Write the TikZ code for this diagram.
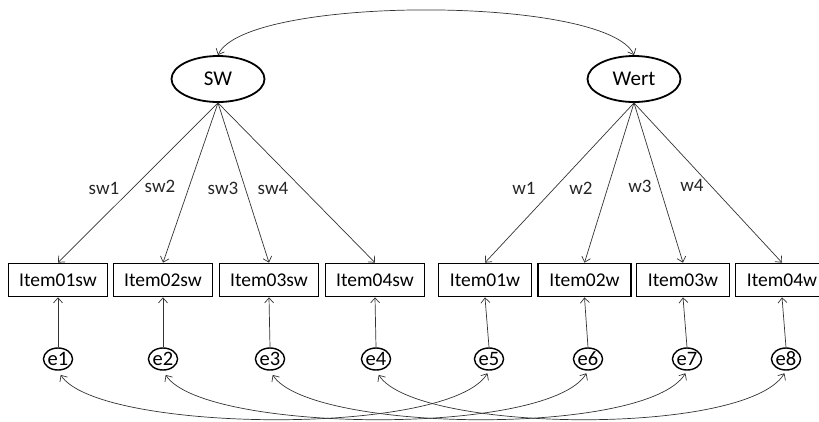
\documentclass[tikz,border=0pt]{standalone}
\usepackage{fontspec}
\setmainfont{Carlito}
\usetikzlibrary{arrows.meta,shapes.geometric}
\begin{document}
\begin{tikzpicture}[x=1pt,y=-1pt,
  latent/.style={ellipse,draw,line width=1.8pt,minimum width=93pt,minimum height=46pt,inner sep=0pt,font=\fontsize{21}{25}\selectfont},
  obs/.style={rectangle,draw,line width=1.7pt,minimum height=33pt,inner sep=0pt,font=\fontsize{19.5}{23}\selectfont},
  obssw/.style={obs,minimum width=99pt},
  obsw/.style={obs,minimum width=93pt},
  err/.style={ellipse,draw,line width=1.4pt,minimum width=29pt,minimum height=22pt,inner sep=0pt,font=\fontsize{20.5}{24}\selectfont},
  lbl/.style={font=\fontsize{19}{23}\selectfont,inner sep=0pt,text=black!85},
  tip/.tip={Straight Barb[length=5pt,width=9pt]},
  conn/.style={line width=0.7pt,draw=black!80,-tip},
  cov/.style={line width=0.7pt,draw=black!80,tip-tip}
]
\useasboundingbox (0,0) rectangle (819,421);

% latent variables
\node[latent] (SW) at (218,79) {SW};
\node[latent] (Wert) at (634,79) {Wert};

% observed items
\node[obssw] (i1) at (58,280) {Item01sw};
\node[obssw] (i2) at (163,280) {Item02sw};
\node[obssw] (i3) at (269,280) {Item03sw};
\node[obssw] (i4) at (375,280) {Item04sw};
\node[obsw] (i5) at (485,280) {Item01w};
\node[obsw] (i6) at (584.5,280) {Item02w};
\node[obsw] (i7) at (683,280) {Item03w};
\node[obsw] (i8) at (782,280) {Item04w};

% error terms
\node[err] (e1) at (58,359) {e1};
\node[err] (e2) at (163,359) {e2};
\node[err] (e3) at (270,359) {e3};
\node[err] (e4) at (376,359) {e4};
\node[err] (e5) at (489,359) {e5};
\node[err] (e6) at (588,359) {e6};
\node[err] (e7) at (687,359) {e7};
\node[err] (e8) at (786,359) {e8};

% covariance between latents
\draw[cov] (SW.north) .. controls +(27,-60) and +(-27,-60) .. (Wert.north);

% loadings
\foreach \i in {1,2,3,4} \draw[conn] (SW.south) -- (i\i.north);
\foreach \i in {5,6,7,8} \draw[conn] (Wert.south) -- (i\i.north);

% loading labels
\node[lbl] (l1) at (104,188) {sw1};
\node[lbl] (l2) at (160,186) {sw2};
\node[lbl] (l3) at (223,188) {sw3};
\node[lbl] (l4) at (273,188) {sw4};
\node[lbl] (l5) at (524,188) {w1};
\node[lbl] (l6) at (581,188) {w2};
\node[lbl] (l7) at (640,186) {w3};
\node[lbl] (l8) at (692,185) {w4};

% error paths
\foreach \i in {1,...,8} \draw[conn] (e\i.north) -- (i\i.south);

% error covariances
\foreach \a/\b in {1/5,2/6,3/7,4/8}
  \draw[cov,shorten <=5pt,shorten >=3pt] (e\a.south) .. controls +(40,62) and +(-40,66) .. (e\b.south);
\end{tikzpicture}
\end{document}
